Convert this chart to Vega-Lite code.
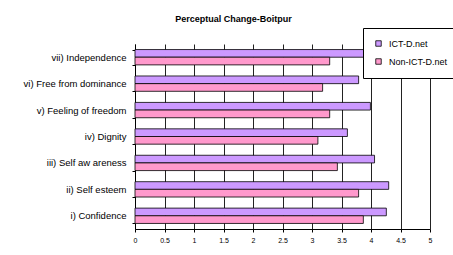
{
  "$schema": "https://vega.github.io/schema/vega-lite/v6.json",
  "width": 295,
  "height": 185,
  "autosize": {"type": "none"},
  "padding": {"left": 135, "top": 44, "right": 23, "bottom": 26},
  "background": "white",
  "title": {
    "text": "Perceptual Change-Boitpur",
    "font": "Liberation Sans",
    "fontSize": 9,
    "fontWeight": "bold",
    "color": "#000",
    "anchor": "middle",
    "dx": -49,
    "offset": 4
  },
  "data": {
    "values": [
      {"item": "vii) Independence", "series": "ICT-D.net", "value": 3.88},
      {"item": "vii) Independence", "series": "Non-ICT-D.net", "value": 3.3},
      {"item": "vi) Free from dominance", "series": "ICT-D.net", "value": 3.79},
      {"item": "vi) Free from dominance", "series": "Non-ICT-D.net", "value": 3.18},
      {"item": "v) Feeling of freedom", "series": "ICT-D.net", "value": 3.99},
      {"item": "v) Feeling of freedom", "series": "Non-ICT-D.net", "value": 3.3},
      {"item": "iv) Dignity", "series": "ICT-D.net", "value": 3.6},
      {"item": "iv) Dignity", "series": "Non-ICT-D.net", "value": 3.1},
      {"item": "iii) Self aw areness", "series": "ICT-D.net", "value": 4.06},
      {"item": "iii) Self aw areness", "series": "Non-ICT-D.net", "value": 3.43},
      {"item": "ii) Self esteem", "series": "ICT-D.net", "value": 4.3},
      {"item": "ii) Self esteem", "series": "Non-ICT-D.net", "value": 3.79},
      {"item": "i) Confidence", "series": "ICT-D.net", "value": 4.26},
      {"item": "i) Confidence", "series": "Non-ICT-D.net", "value": 3.87}
    ]
  },
  "mark": {"type": "bar", "stroke": "#000", "strokeWidth": 0.8},
  "encoding": {
    "y": {
      "field": "item",
      "type": "nominal",
      "sort": null,
      "scale": {"paddingInner": 0.42, "paddingOuter": 0.21},
      "axis": {
        "title": null,
        "labelFont": "Liberation Sans",
        "labelFontSize": 9.5,
        "labelColor": "#000",
        "labelPadding": 6,
        "domainColor": "#000",
        "tickColor": "#000",
        "tickSize": 3,
        "tickBand": "extent",
        "grid": false
      }
    },
    "yOffset": {"field": "series", "type": "nominal", "sort": ["ICT-D.net", "Non-ICT-D.net"]},
    "x": {
      "field": "value",
      "type": "quantitative",
      "scale": {"domain": [0, 5], "nice": false},
      "axis": {
        "title": null,
        "values": [0, 0.5, 1, 1.5, 2, 2.5, 3, 3.5, 4, 4.5, 5],
        "labelExpr": "'' + datum.value",
        "labelFont": "Liberation Sans",
        "labelFontSize": 7,
        "labelColor": "#000",
        "labelPadding": 4,
        "domainColor": "#000",
        "tickColor": "#000",
        "tickSize": 3,
        "grid": true,
        "gridColor": "#222",
        "gridWidth": 1,
        "labelFlush": false
      }
    },
    "color": {
      "field": "series",
      "type": "nominal",
      "scale": {"domain": ["ICT-D.net", "Non-ICT-D.net"], "range": ["#CC99FF", "#FF99CC"]},
      "legend": {
        "title": null,
        "orient": "none",
        "legendX": 228,
        "legendY": -16,
        "direction": "vertical",
        "symbolType": "square",
        "symbolSize": 30,
        "symbolStrokeColor": "#000",
        "symbolStrokeWidth": 0.8,
        "labelFont": "Liberation Sans",
        "labelFontSize": 9,
        "labelColor": "#000",
        "rowPadding": 8,
        "padding": 11,
        "offset": 0,
        "strokeColor": "#000",
        "fillColor": "#fff",
        "labelOffset": 6
      }
    }
  },
  "config": {
    "view": {"stroke": null}
  }
}
